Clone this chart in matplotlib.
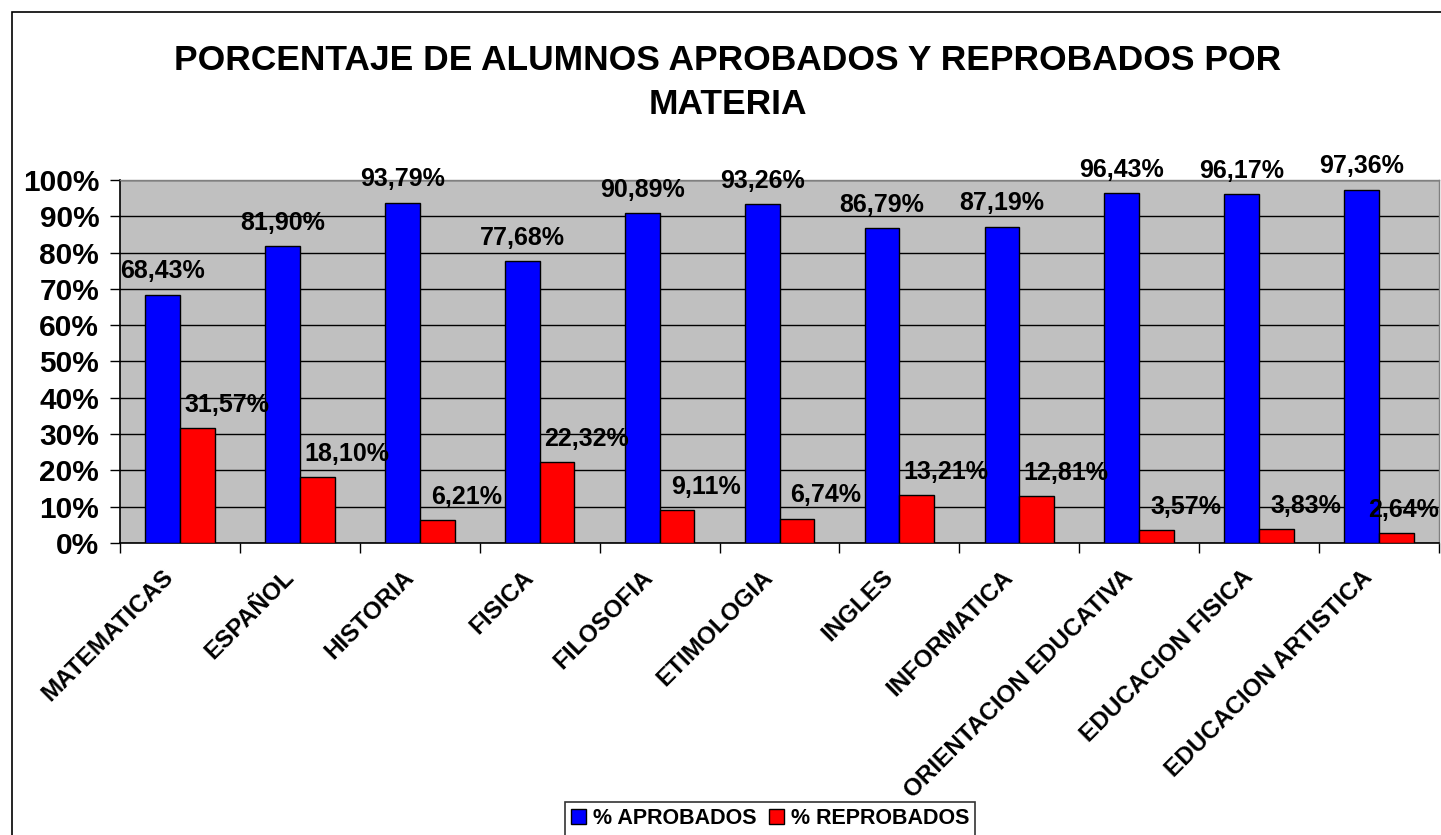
import matplotlib
matplotlib.use("Agg")
import matplotlib.pyplot as plt
import matplotlib.transforms as mtransforms
from matplotlib.patches import Rectangle
import numpy as np

materias = ["MATEMATICAS", "ESPAÑOL", "HISTORIA", "FISICA", "FILOSOFIA", "ETIMOLOGIA",
            "INGLES", "INFORMATICA", "ORIENTACION EDUCATIVA", "EDUCACION FISICA",
            "EDUCACION ARTISTICA"]
aprobados = [68.43, 81.90, 93.79, 77.68, 90.89, 93.26, 86.79, 87.19, 96.43, 96.17, 97.36]
reprobados = [31.57, 18.10, 6.21, 22.32, 9.11, 6.74, 13.21, 12.81, 3.57, 3.83, 2.64]
series_names = ["% APROBADOS", "% REPROBADOS"]
y_ticks = [0, 10, 20, 30, 40, 50, 60, 70, 80, 90, 100]

plt.rcParams['font.family'] = ['Liberation Sans', 'DejaVu Sans']
plt.rcParams['font.weight'] = 'bold'

W, H = 1441, 835
fig = plt.figure(figsize=(W / 100, H / 100), dpi=100)
fig.patch.set_facecolor('white')

# outer chart border
fig.patches.append(Rectangle((12 / W, -0.01), 1.02, (H - 12) / H + 0.01, transform=fig.transFigure,
                             fill=False, edgecolor='black', linewidth=1.2))

ax = fig.add_axes([120 / W, 1 - 543 / H, (1439 - 120) / W, (543 - 180) / H])
ax.set_facecolor('#C0C0C0')

x = np.arange(len(materias))
bw = 0.29
ax.bar(x - bw / 2, aprobados, width=bw, color='#0000FF', edgecolor='black', linewidth=1,
       label=series_names[0], zorder=3)
ax.bar(x + bw / 2, reprobados, width=bw, color='#FF0000', edgecolor='black', linewidth=1,
       label=series_names[1], zorder=3)

def fmt(v):
    return f"{v:.2f}".replace('.', ',') + "%"

for i in range(len(materias)):
    ax.annotate(fmt(aprobados[i]), (x[i] - bw / 2, aprobados[i]), xytext=(0, 8),
                textcoords='offset points', ha='center', va='bottom', fontsize=18,
                fontweight='bold', zorder=5, annotation_clip=False)
    dx = 21 if i < len(materias) - 1 else 5
    ax.annotate(fmt(reprobados[i]), (x[i] + bw / 2, reprobados[i]), xytext=(dx, 8),
                textcoords='offset points', ha='center', va='bottom', fontsize=18,
                fontweight='bold', zorder=5, annotation_clip=False)

ax.set_xlim(-0.5, len(materias) - 0.5)
ax.set_ylim(0, 100)
ax.set_yticks(y_ticks)
ax.set_yticklabels([f"{t}%" for t in y_ticks], fontsize=21.5, fontweight='bold')
ax.yaxis.grid(True, color='black', linewidth=1, zorder=1)
ax.set_axisbelow(True)

ax.set_xticks(x)
ax.set_xticklabels(materias, rotation=45, ha='right', rotation_mode='anchor',
                   fontsize=17.5, fontweight='bold')
ax.tick_params(axis='x', which='major', length=0, pad=12)
offset = mtransforms.ScaledTranslation(-18 / 100, -6 / 100, fig.dpi_scale_trans)
for lab in ax.get_xticklabels():
    lab.set_transform(lab.get_transform() + offset)
ax.set_xticks(np.arange(len(materias) + 1) - 0.5, minor=True)
ax.tick_params(axis='x', which='minor', length=7, width=1, color='black', direction='out')
ax.tick_params(axis='y', length=7, width=1, direction='out', pad=8)

for s in ['left', 'bottom']:
    ax.spines[s].set_color('black')
    ax.spines[s].set_linewidth(1.2)
for s in ['top', 'right']:
    ax.spines[s].set_color('#808080')
    ax.spines[s].set_linewidth(1)

fig.text(728 / W, 1 - 61 / H, "PORCENTAJE DE ALUMNOS APROBADOS Y REPROBADOS POR",
         ha='center', va='center', fontsize=25.5, fontweight='bold')
fig.text(728 / W, 1 - 105 / H, "MATERIA", ha='center', va='center', fontsize=25.5,
         fontweight='bold')

leg = fig.legend(loc='lower center', bbox_to_anchor=(770 / W, -0.014), ncol=2,
                 frameon=True, fancybox=False, edgecolor='black', handlelength=0.7,
                 handleheight=0.7, handletextpad=0.3, columnspacing=0.6, borderpad=0.3,
                 prop={'weight': 'bold', 'size': 15.5})
leg.get_frame().set_linewidth(1.2)

fig.savefig("out.png", dpi=100)
